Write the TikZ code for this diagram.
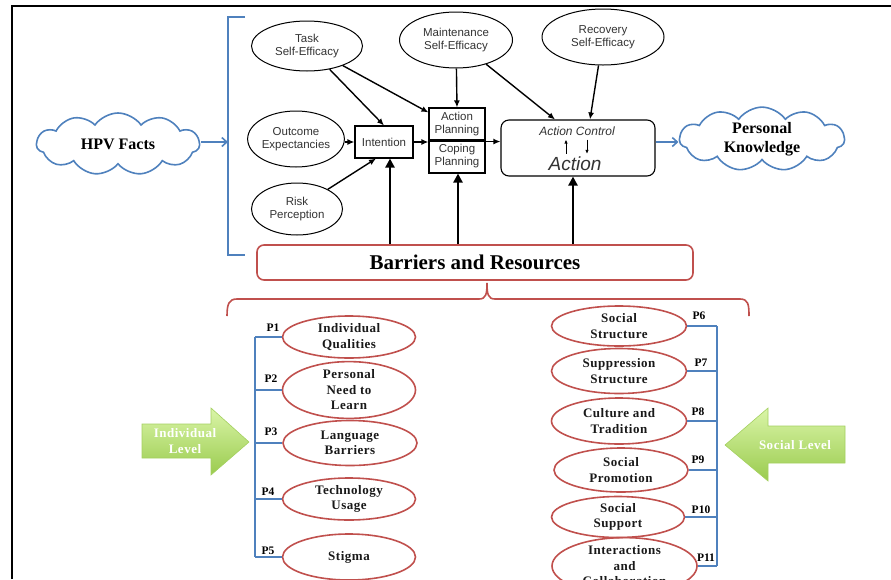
\documentclass[tikz,border=0pt]{standalone}
\usepackage{fontspec}
\setmainfont{Liberation Serif}
\newfontfamily\sfa{Liberation Sans}
\newfontfamily\lbl[LetterSpace=4]{Liberation Serif}
\usetikzlibrary{shapes.geometric,shapes.symbols,arrows.meta,calc}
\definecolor{oblue}{HTML}{4F81BD}
\definecolor{ored}{HTML}{C0504D}
\definecolor{gtop}{HTML}{DAF5A8}
\definecolor{gbot}{HTML}{9ACB4E}
\definecolor{txt}{HTML}{333333}
\begin{document}
\begin{tikzpicture}[x=1pt,y=-1pt,
  topell/.style={ellipse, draw, line width=1pt, inner sep=0pt, align=center, text=txt, font=\sfa\fontsize{11.5}{13}\selectfont},
  topbox/.style={draw, line width=1.1pt, inner sep=0pt, align=center, text=txt, font=\sfa\fontsize{11.5}{13}\selectfont},
  arr/.style={line width=1.4pt, -{Latex[length=7pt,width=6pt]}},
  bigarr/.style={line width=2.3pt, -{Triangle[length=9pt,width=9pt]}},
  smarr/.style={line width=1pt, -{Latex[length=4pt,width=3.5pt]}},
  bluearr/.style={oblue, line width=1.6pt, -{Straight Barb[length=5pt,width=9pt]}},
  bluecloud/.style={cloud, cloud puffs=11, cloud puff arc=110, aspect=2.6, draw=oblue, line width=1.6pt, inner sep=0pt, align=center, font=\bfseries\fontsize{16}{19}\selectfont},
  redell/.style={ellipse, draw=ored, line width=1.6pt, inner sep=0pt, align=center, text=black!90, font=\lbl\bfseries\fontsize{13}{15.5}\selectfont},
  plabel/.style={font=\bfseries\fontsize{11.5}{13}\selectfont, inner sep=0pt},
  tree/.style={oblue, line width=2pt},
  greenarr/.style={top color=gtop, bottom color=gbot, draw=gbot!90!white, line width=0.6pt},
  arrtext/.style={text=white, align=center, font=\lbl\bfseries\fontsize{13}{15.5}\selectfont}
]
\useasboundingbox (0,0) rectangle (891,579);
% frame
\draw[line width=2pt] (12,579) -- (12,6) -- (891,6);

% top model
\node[bluecloud, minimum width=163pt, minimum height=62pt] (hpv) at (118,144) {HPV Facts};
\node[bluecloud, minimum width=165pt, minimum height=62pt] (pk) at (762,139) {Personal\\Knowledge};

\node[topell, minimum width=111pt, minimum height=50pt] (task) at (307,46) {Task\\Self-Efficacy};
\node[topell, minimum width=113pt, minimum height=56pt] (maint) at (456,40) {Maintenance\\Self-Efficacy};
\node[topell, minimum width=122pt, minimum height=56pt] (rec) at (603,37) {Recovery\\Self-Efficacy};
\node[topell, minimum width=91pt, minimum height=56pt] (out) at (296,139) {Outcome\\Expectancies};
\node[topell, minimum width=91pt, minimum height=52pt] (risk) at (297,209) {Risk\\Perception};

\node[topbox, minimum width=58pt, minimum height=32pt] (int) at (384,142) {Intention};
\node[topbox, minimum width=56pt, minimum height=33pt] (ap) at (457,124.5) {Action\\Planning};
\node[topbox, minimum width=56pt, minimum height=33pt] (cp) at (457,156.5) {Coping\\Planning};
\node[draw, line width=1.1pt, rounded corners=8pt, minimum width=154pt, minimum height=56pt] (ac) at (578,148) {};
\node[text=txt, inner sep=1pt, font=\sfa\itshape\fontsize{12}{14}\selectfont] (actl) at (577,131) {Action Control};
\node[text=txt, inner sep=1pt, font=\sfa\itshape\fontsize{19}{22}\selectfont] (act) at (575,164) {Action};
\coordinate (u1) at (566,0);
\coordinate (u2) at (587,0);
\draw[smarr] ([yshift=2pt]act.north -| u1) -- ([yshift=-3pt]actl.south -| u1);
\draw[smarr] ([yshift=-3pt]actl.south -| u2) -- ([yshift=2pt]act.north -| u2);

\node[draw=ored, line width=1.6pt, rounded corners=7pt, minimum width=436pt, minimum height=35pt, font=\bfseries\fontsize{21}{24}\selectfont] (barr) at (475,262.5) {Barriers and Resources};

% connectors top
\draw[arr] (task) -- (int.north);
\draw[arr] (task) -- ([yshift=-5pt]ap.north west);
\draw[arr] (int.west -| out.east) -- (int.west);
\draw[arr] (risk) -- ([xshift=-8pt]int.south);
\draw[arr] (int.east) -- (int.east -| ap.west);
\draw[arr] (maint) -- (ap.north);
\draw[arr] (maint) -- ([xshift=-23pt]ac.north);
\draw[arr] (rec) -- ([xshift=12pt]ac.north);
\draw[arr] (ap.south east) -- (ap.south east -| ac.west);

\coordinate (b1) at (390,0);
\coordinate (b2) at (458,0);
\coordinate (b3) at (573,0);
\draw[bigarr] (barr.north -| b1) -- (int.south -| b1);
\draw[bigarr] (barr.north -| b2) -- (cp.south -| b2);
\draw[bigarr] (barr.north -| b3) -- (ac.south -| b3);

% blue bracket and arrows
\draw[tree] (245,17) -- (228,17) -- (228,255) -- (245,255);
\coordinate (brk) at (228,142);
\draw[bluearr] (brk -| hpv.east) -- (brk);
\coordinate (ka) at ([yshift=6pt]ac.east);
\draw[bluearr] (ka) -- (ka -| pk.west);

% red brace
\draw[ored, line width=1.6pt] (227,316) .. controls (227,304) and (229,299) .. (237,299)
  -- (479,299) .. controls (486,299) and (487,294) .. (487,283)
  .. controls (487,294) and (488,299) .. (495,299)
  -- (740,299) .. controls (748,299) and (749,304) .. (749,316);

% left ellipses
\node[redell, minimum width=133pt, minimum height=42pt] (iq) at (349,337) {Individual\\Qualities};
\node[redell, minimum width=133pt, minimum height=45pt] (pn) at (349,390) {Personal\\Need to\\Learn};
\node[redell, minimum width=134pt, minimum height=45pt] (lb) at (350,443) {Language\\Barriers};
\node[redell, minimum width=133pt, minimum height=42pt] (tu) at (349,499) {Technology\\Usage};
\node[redell, minimum width=133pt, minimum height=46pt] (st) at (349,557) {Stigma};

\coordinate (lt) at (255,0);
\draw[tree] (iq.west -| lt) -- (st.west -| lt);
\foreach \n in {iq,pn,lb,tu,st} \draw[tree] (\n.west -| lt) -- (\n.west);
\node[plabel] (p1) at (273,328) {P1};
\node[plabel] (p2) at (271,379) {P2};
\node[plabel] (p3) at (271,432) {P3};
\node[plabel] (p4) at (268,492) {P4};
\node[plabel] (p5) at (268,551) {P5};

% right ellipses
\node[redell, minimum width=135pt, minimum height=40pt] (ss) at (619,326) {Social\\Structure};
\node[redell, minimum width=135pt, minimum height=45pt] (sup) at (619,371) {Suppression\\Structure};
\node[redell, minimum width=135pt, minimum height=46pt] (ct) at (619,421) {Culture and\\Tradition};
\node[redell, minimum width=134pt, minimum height=44pt] (sp) at (621,470) {Social\\Promotion};
\node[redell, minimum width=133pt, minimum height=41pt] (sso) at (618,517) {Social\\Support};
\node[redell, minimum width=145pt, minimum height=46pt] (ic) at (624.5,566) {Interactions\\and\\Collaboration};

\coordinate (rt) at (717,0);
\draw[tree] (ss.east -| rt) -- (ic.east -| rt);
\foreach \n in {ss,sup,ct,sp,sso,ic} \draw[tree] (\n.east) -- (\n.east -| rt);
\node[plabel] (p6) at (699,316) {P6};
\node[plabel] (p7) at (701,363) {P7};
\node[plabel] (p8) at (698,412) {P8};
\node[plabel] (p9) at (698,460) {P9};
\node[plabel] (p10) at (701,510) {P10};
\node[plabel] (p11) at (706,558) {P11};

% green level arrows
\shade[greenarr] (142,424) -- (211,424) -- (211,408) -- (249,442) -- (211,475) -- (211,458) -- (142,458) -- cycle;
\node[arrtext] (indl) at (185,441) {Individual\\Level};
\shade[greenarr] (845,426) -- (768,426) -- (768,408) -- (725,445) -- (768,481) -- (768,463) -- (845,463) -- cycle;
\node[arrtext] (socl) at (795,445) {Social Level};
\end{tikzpicture}
\end{document}
